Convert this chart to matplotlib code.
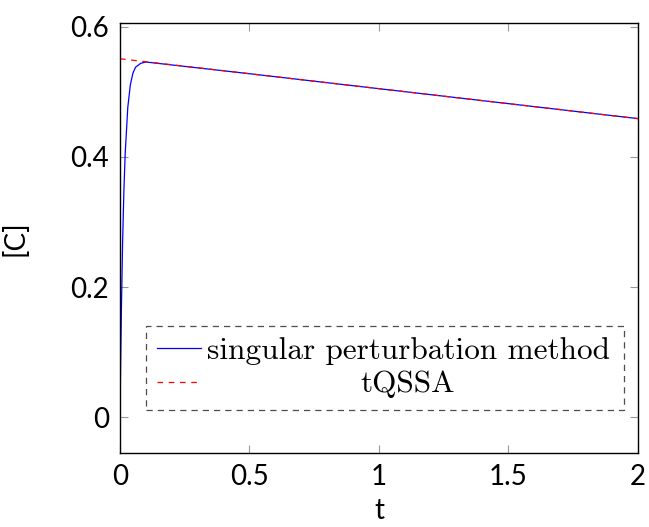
import matplotlib
matplotlib.use('Agg')
import matplotlib.pyplot as plt

# singular perturbation solution
t_sp = [0, 0.002, 0.005, 0.01, 0.015, 0.02, 0.03, 0.04, 0.05, 0.06, 0.08, 0.1,
        0.5, 1.0, 1.5, 2.0]
c_sp = [0, 0.069, 0.156, 0.268, 0.348, 0.405, 0.476, 0.511, 0.529, 0.538, 0.544, 0.546,
        0.528, 0.505, 0.482, 0.459]

# tQSSA
t_q = [0, 0.5, 1.0, 1.5, 2.0]
c_q = [0.551, 0.528, 0.505, 0.482, 0.459]

xticks = [0, 0.5, 1, 1.5, 2]
xlabels = ['0', '0.5', '1', '1.5', '2']
yticks = [0, 0.2, 0.4, 0.6]
ylabels = ['0', '0.2', '0.4', '0.6']

tick_font = 'Lato'
fs = 20
legfs = 22.5

fig = plt.figure(figsize=(6.49, 5.27), dpi=100)
ax = fig.add_axes([0.1849, 0.1404, 0.7981, 0.816])

ax.plot(t_sp, c_sp, color='blue', lw=0.9, label='singular perturbation method')
ax.plot(t_q, c_q, color='red', lw=0.9, dashes=(4.5, 4.5), label=' ')

ax.set_xlim(0, 2)
ax.set_ylim(-0.055, 0.606)
ax.set_xticks(xticks)
ax.set_xticklabels(xlabels, fontfamily=tick_font, fontsize=fs)
ax.set_yticks(yticks)
ax.set_yticklabels(ylabels, fontfamily=tick_font, fontsize=fs)
ax.tick_params(direction='in', length=6, width=0.8, color='0.6',
               top=True, right=True, pad=8)
for s in ax.spines.values():
    s.set_linewidth(1.0)
    s.set_color('black')

ax.set_xlabel('t', fontfamily=tick_font, fontsize=fs, labelpad=6)
ax.set_ylabel('[C]', fontfamily=tick_font, fontsize=fs, labelpad=30)

leg = ax.legend(loc='lower left', bbox_to_anchor=(0.05, 0.1, 0.923, 0.2),
                mode='expand', borderaxespad=0, fancybox=False,
                prop={'family': 'cmr10', 'size': legfs}, handlelength=1.4,
                handletextpad=0.22, labelspacing=0.2, borderpad=0.35,
                framealpha=1)
leg.get_frame().set_linestyle((0, (5, 4)))
leg.get_frame().set_edgecolor('0.3')
leg.get_frame().set_linewidth(0.9)

# pgfplots centres legend text, so the second entry is placed by hand
ax.text(0.556, 0.16, 'tQSSA', transform=ax.transAxes, ha='center', va='center',
        fontfamily='cmr10', fontsize=legfs, zorder=10)

plt.savefig('out.png', dpi=100)
